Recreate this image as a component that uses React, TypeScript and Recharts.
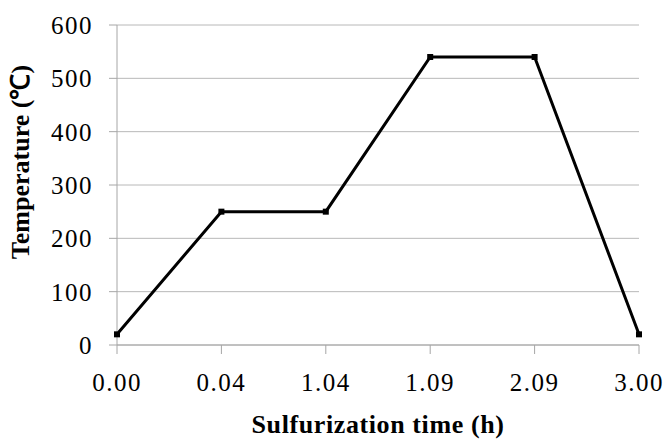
import React from "react";
import { LineChart, Line, XAxis, YAxis, CartesianGrid, Label } from "recharts";

const categories = ["0.00", "0.04", "1.04", "1.09", "2.09", "3.00"];
const temperatures = [20, 250, 250, 540, 540, 20];
const yTicks = [0, 100, 200, 300, 400, 500, 600];
const xTitle = "Sulfurization time (h)";
const yTitle = "Temperature (℃)";

const data = categories.map((c, i) => ({ time: c, temp: temperatures[i] }));

const FONT = "'Liberation Serif', 'Times New Roman', serif";
const AXIS = "#a6a6a6";

const SquareDot = (props: any) => {
  const { cx, cy } = props;
  if (cx == null || cy == null) return null;
  return <rect x={cx - 3} y={cy - 3} width={6} height={6} fill="#000" />;
};

const YTitle = (props: any) => {
  const x = 29;
  const y = 162;
  return (
    <text
      x={x}
      y={y}
      transform={`rotate(-90 ${x} ${y})`}
      textAnchor="middle"
      fontFamily={FONT}
      fontWeight="bold"
      fontSize={26}
      fill="#000"
    >
      {yTitle}
    </text>
  );
};

export default function App() {
  return (
    <div style={{ position: "absolute", left: 0, top: 0 }}>
      <LineChart
        width={665}
        height={439}
        data={data}
        margin={{ top: 25, right: 26, bottom: 0, left: 0 }}
      >
        <CartesianGrid vertical={false} stroke="#b8b8b8" strokeWidth={1} />
        <XAxis
          dataKey="time"
          height={94}
          stroke={AXIS}
          tickSize={9}
          tickMargin={19}
          tickLine={{ stroke: AXIS }}
          axisLine={{ stroke: AXIS }}
          tick={{ fill: "#000", fontSize: 25, fontFamily: FONT, letterSpacing: 1.5 }}
          interval={0}
        >
          <Label
            value={xTitle}
            position="insideBottom"
            offset={6}
            style={{
              fontFamily: FONT,
              fontWeight: "bold",
              fontSize: 26,
              fill: "#000",
              letterSpacing: 0.6,
            }}
          />
        </XAxis>
        <YAxis
          width={117}
          domain={[0, 600]}
          ticks={yTicks}
          stroke={AXIS}
          tickSize={8}
          tickMargin={16}
          tickLine={{ stroke: AXIS }}
          axisLine={{ stroke: AXIS }}
          tick={{ fill: "#000", fontSize: 25, fontFamily: FONT, letterSpacing: 1.5 }}
          interval={0}
        >
          <Label content={<YTitle />} />
        </YAxis>
        <Line
          type="linear"
          dataKey="temp"
          stroke="#000"
          strokeWidth={3}
          dot={<SquareDot />}
          activeDot={false}
          isAnimationActive={false}
        />
      </LineChart>
    </div>
  );
}
